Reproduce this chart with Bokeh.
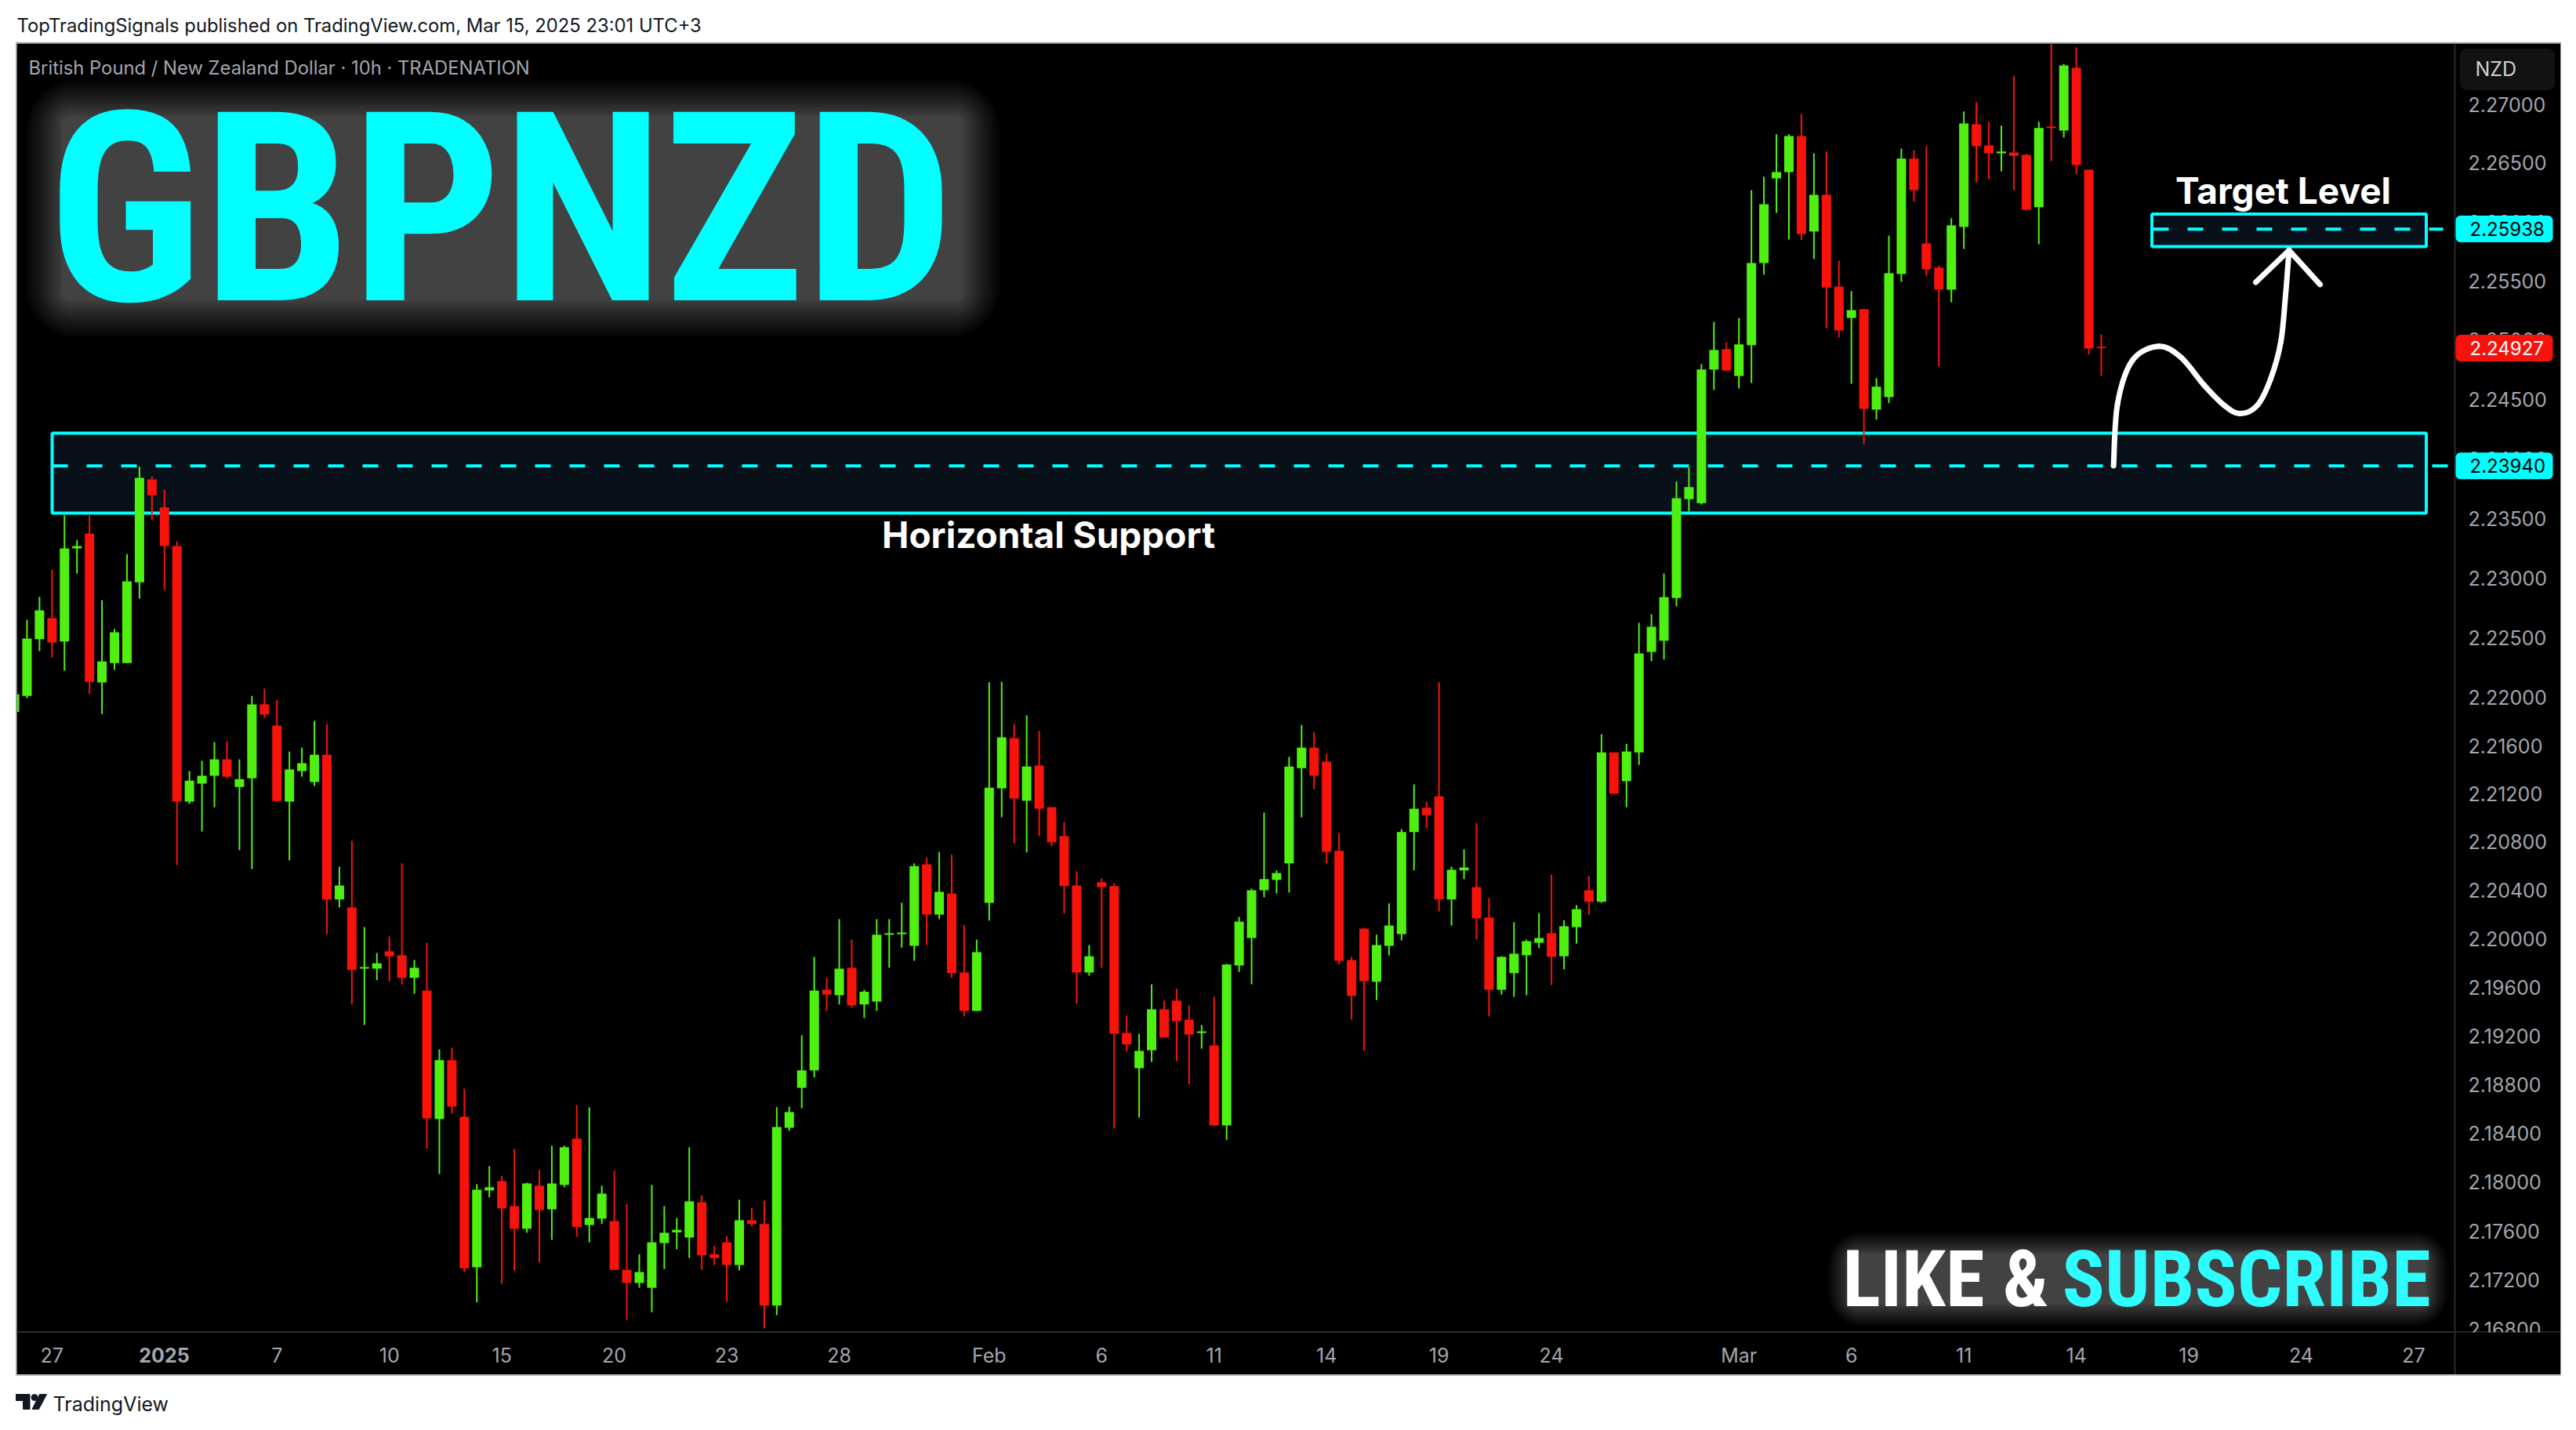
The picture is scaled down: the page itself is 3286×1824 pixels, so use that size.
import math
from bokeh.embed import file_html
from bokeh.layouts import column
from bokeh.models import BoxAnnotation, ColumnDataSource, FixedTicker, Label, NumeralTickFormatter, Range1d
from bokeh.plotting import figure
from bokeh.resources import INLINE

open_read = [
 2.21893,2.22026,2.22498,2.22673,2.22478,2.23256,2.23379,2.22138,2.22300,2.22300,
 2.22973,2.23834,2.23598,2.23276,2.21149,2.21298,2.21363,2.21499,2.21270,2.21342,
 2.21956,2.21779,2.21149,2.21402,2.21311,2.21537,2.20340,2.20274,2.19770,2.19770,
 2.19912,2.19880,2.19694,2.19590,2.18536,2.19018,2.18554,2.17326,2.17952,2.18028,
 2.17824,2.17639,2.17991,2.17798,2.17997,2.18376,2.17670,2.17722,2.17702,2.17305,
 2.17198,2.17159,2.17523,2.17610,2.17568,2.17856,2.17432,2.17529,2.17344,2.17709,
 2.17678,2.17014,2.18464,2.18791,2.18934,2.19596,2.19551,2.19777,2.19475,2.19499,
 2.20049,2.20054,2.19957,2.20630,2.20215,2.20389,2.19738,2.19422,2.20313,2.21259,
 2.21676,2.21156,2.21448,2.21103,2.20863,2.20455,2.19738,2.20482,2.20450,2.19241,
 2.18952,2.19099,2.19435,2.19507,2.19351,2.19241,2.19138,2.18483,2.19796,2.20022,
 2.20416,2.20501,2.20638,2.21426,2.21596,2.21480,2.20741,2.19841,2.20099,2.19662,
 2.19957,2.20054,2.20897,2.21098,2.21193,2.20340,2.20580,2.20442,2.20191,2.19596,
 2.19733,2.19880,2.19983,2.20062,2.19872,2.20112,2.20416,2.20321,2.21557,2.21318,
 2.21557,2.22392,2.22485,2.22842,2.23668,2.23635,2.24756,2.24928,2.24702,2.24961,
 2.25654,2.26371,2.26424,2.26731,2.25921,2.26232,2.25455,2.25191,2.25264,2.24419,
 2.24525,2.25562,2.26539,2.25820,2.25615,2.25430,2.25959,2.26830,2.26651,2.26584,
 2.26591,2.26571,2.26127,2.26811,2.26777,2.27310,2.26445,2.24947]
high_read = [
 2.22046,2.22660,2.22851,2.23078,2.23533,2.23327,2.23533,2.22823,2.22583,2.23208,
 2.23940,2.23859,2.23749,2.23314,2.21402,2.21487,2.21642,2.21649,2.21499,2.22026,
 2.22086,2.21993,2.21564,2.21597,2.21818,2.21791,2.20611,2.20824,2.20112,2.19899,
 2.20035,2.20638,2.19841,2.19983,2.19107,2.19120,2.18784,2.18004,2.18151,2.18072,
 2.18292,2.18015,2.18119,2.18318,2.18318,2.18650,2.18632,2.17991,2.18112,2.17842,
 2.17432,2.17997,2.17824,2.17727,2.18305,2.17913,2.17503,2.17581,2.17876,2.17811,
 2.17869,2.18632,2.18637,2.19222,2.19867,2.19694,2.20178,2.20009,2.19596,2.20178,
 2.20178,2.20313,2.20638,2.20688,2.20733,2.20709,2.20130,2.20009,2.22139,2.22144,
 2.21793,2.21865,2.21735,2.21103,2.20979,2.20572,2.19964,2.20514,2.20474,2.19383,
 2.19235,2.19641,2.19507,2.19604,2.19467,2.19307,2.19538,2.19809,2.20196,2.20429,
 2.21058,2.20580,2.21520,2.21785,2.21727,2.21546,2.20889,2.19867,2.20107,2.20049,
 2.20308,2.20921,2.21291,2.21148,2.22139,2.20611,2.20754,2.20973,2.20353,2.19872,
 2.20152,2.20009,2.20228,2.20545,2.20169,2.20294,2.20532,2.21708,2.21557,2.21628,
 2.22634,2.22706,2.23046,2.23815,2.23933,2.24803,2.25157,2.24985,2.25190,2.26271,
 2.26385,2.26745,2.26745,2.26917,2.26584,2.26598,2.25674,2.25417,2.25270,2.24684,
 2.25886,2.26624,2.26612,2.26644,2.25633,2.26033,2.26938,2.27018,2.26851,2.26819,
 2.27243,2.26578,2.26851,2.27520,2.27344,2.27484,2.26445,2.25052]
low_read = [
 2.21883,2.22008,2.22398,2.22346,2.22236,2.23046,2.22041,2.21876,2.22243,2.22300,
 2.22836,2.23493,2.22908,2.20623,2.21129,2.20901,2.21102,2.21340,2.20747,2.20591,
 2.21844,2.21149,2.20663,2.21355,2.21278,2.20054,2.20274,2.19475,2.19307,2.19675,
 2.19667,2.19641,2.19564,2.18295,2.18086,2.18580,2.17287,2.17040,2.17895,2.17191,
 2.17300,2.17607,2.17365,2.17549,2.17978,2.17574,2.17529,2.17678,2.17305,2.16899,
 2.17159,2.16961,2.17312,2.17472,2.17401,2.17305,2.17344,2.17045,2.17300,2.17657,
 2.16829,2.16936,2.18439,2.18624,2.18876,2.19422,2.19475,2.19448,2.19364,2.19422,
 2.19777,2.19943,2.19835,2.19964,2.20178,2.19694,2.19377,2.19422,2.20165,2.21019,
 2.20804,2.20728,2.20863,2.20778,2.20223,2.19480,2.19712,2.19777,2.18457,2.19089,
 2.18548,2.19004,2.19204,2.19010,2.18819,2.19112,2.18478,2.18363,2.19743,2.19641,
 2.20358,2.20389,2.20397,2.21019,2.21251,2.20638,2.19804,2.19351,2.19094,2.19511,
 2.19880,2.20002,2.20580,2.20929,2.20242,2.20125,2.20508,2.20009,2.19377,2.19557,
 2.19538,2.19551,2.19938,2.19635,2.19764,2.19977,2.20215,2.20313,2.21206,2.21103,
 2.21453,2.22315,2.22329,2.22772,2.23564,2.23624,2.24584,2.24748,2.24597,2.24643,
 2.25556,2.26078,2.25854,2.25848,2.25688,2.25105,2.25027,2.24637,2.24131,2.24335,
 2.24473,2.25496,2.26173,2.25548,2.24782,2.25323,2.25774,2.26338,2.26365,2.26431,
 2.26271,2.26099,2.25813,2.26518,2.26717,2.26408,2.24882,2.24703]
close_read = [
 2.22040,2.22503,2.22738,2.22470,2.23256,2.23276,2.22143,2.22313,2.22555,2.22981,
 2.23847,2.23701,2.23276,2.21149,2.21323,2.21363,2.21499,2.21355,2.21335,2.21956,
 2.21871,2.21154,2.21415,2.21467,2.21537,2.20339,2.20455,2.19759,2.19783,2.19814,
 2.19872,2.19694,2.19777,2.18541,2.19018,2.18637,2.17318,2.17958,2.17978,2.17806,
 2.17639,2.18009,2.17792,2.18009,2.18305,2.17652,2.17727,2.17926,2.17305,2.17198,
 2.17287,2.17529,2.17607,2.17631,2.17863,2.17422,2.17401,2.17344,2.17709,2.17678,
 2.17014,2.18470,2.18593,2.18934,2.19590,2.19557,2.19770,2.19467,2.19580,2.20049,
 2.20062,2.20067,2.20616,2.20215,2.20403,2.19733,2.19422,2.19906,2.21264,2.21682,
 2.21174,2.21440,2.21090,2.20812,2.20450,2.19738,2.19872,2.20442,2.19235,2.19147,
 2.19094,2.19435,2.19204,2.19338,2.19228,2.19254,2.18483,2.19804,2.20157,2.20416,
 2.20508,2.20558,2.21440,2.21596,2.21363,2.20733,2.19835,2.19546,2.19667,2.19964,
 2.20125,2.20897,2.21090,2.21037,2.20340,2.20585,2.20604,2.20184,2.19596,2.19867,
 2.19893,2.19996,2.20022,2.19867,2.20119,2.20260,2.20321,2.21557,2.21215,2.21564,
 2.22380,2.22602,2.22849,2.23675,2.23769,2.24757,2.24921,2.24748,2.24968,2.25654,
 2.26152,2.26424,2.26731,2.25900,2.26232,2.25448,2.25086,2.25257,2.24425,2.24612,
 2.25569,2.26539,2.26271,2.25601,2.25430,2.25973,2.26837,2.26644,2.26584,2.26598,
 2.26563,2.26106,2.26798,2.26798,2.27330,2.26484,2.24934,2.24936]

# the values above were read with a slightly coarse log calibration; this refines them
CAL = 34061 / 33980
def refine(values):
    return [2.27 * (v / 2.27) ** CAL for v in values]
open_, high, low, close = refine(open_read), refine(high_read), refine(low_read), refine(close_read)

price_ticks = [2.27, 2.265, 2.26, 2.255, 2.25, 2.245, 2.24, 2.235, 2.23, 2.225, 2.22, 2.216, 2.212, 2.208,
               2.204, 2.20, 2.196, 2.192, 2.188, 2.184, 2.18, 2.176, 2.172, 2.168]
time_ticks = [3, 12, 21, 30, 39, 48, 57, 66, 78, 87, 96, 105, 114, 123, 138, 147, 156, 165, 174, 183, 192]
time_labels = ["27", "", "7", "10", "15", "20", "23", "28", "Feb", "6", "11", "14", "19", "24", "Mar", "6", "11",
               "14", "19", "24", "27"]
support_level = 2.23940
target_level = 2.25938
last_price = 2.24927

GREEN, RED, CYAN = "#4ff011", "#f7120c", "#00ffff"
BOX_FILL = "#08101a"
AXIS_TEXT = "#a3a6af"
SANS = "Inter"
DISPLAY = "Roboto Condensed"


def X(px):
    return (px - 18) / 15.94


def Y(py):
    return 2.27 * math.exp(-(py - 132.5) / 33980)


def strip(fig):
    fig.grid.visible = False
    fig.outline_line_color = None


def note_figure(h, y0, y1):
    f = figure(width=3284, height=h, x_range=(0, 3284), y_range=(y1, y0), toolbar_location=None,
               output_backend="svg", min_border=0, x_axis_location=None, y_axis_location=None)
    strip(f)
    return f


# ---------- header strip ----------
top = note_figure(55, 0, 55)
top.line([20, 3266], [54, 54], line_color="#a8a8a8", line_width=1.5)
top.add_layout(Label(x=21, y=32, text="TopTradingSignals published on TradingView.com, Mar 15, 2025 23:01 UTC+3",
                     text_font=SANS, text_font_size="23.8px", text_color="#131722", text_baseline="middle"))

# ---------- main pane: the frame covers the whole black area, the axes draw inward ----------
p = figure(frame_width=3245, frame_height=1698, x_range=Range1d(X(21), X(3266)), y_range=Range1d(Y(1753), Y(55)),
           y_axis_type="log", y_axis_location="right", toolbar_location=None, output_backend="svg",
           min_border_left=0, min_border_top=0, min_border_right=0, min_border_bottom=0,
           background_fill_color="#000000", border_fill_color="#000000",
           margin=(0, 0, 0, 21), styles={"box-shadow": "0 0 0 1px #a8a8a8"})
strip(p)

yax = p.yaxis[0]
yax.ticker = FixedTicker(ticks=price_ticks)
yax.formatter = NumeralTickFormatter(format="0.00000")
yax.major_tick_line_color = None
yax.minor_tick_line_color = None
yax.axis_line_color = None
yax.major_label_text_color = AXIS_TEXT
yax.major_label_text_font = SANS
yax.major_label_text_font_size = "25px"
yax.major_label_standoff = -124

xax = p.xaxis[0]
xax.ticker = FixedTicker(ticks=time_ticks)
xax.major_label_overrides = dict(zip(time_ticks, time_labels))
xax.major_tick_line_color = None
xax.minor_tick_line_color = None
xax.axis_line_color = None
xax.major_label_text_color = AXIS_TEXT
xax.major_label_text_font = SANS
xax.major_label_text_font_size = "25px"
xax.major_label_standoff = -46


def glow(x0, y0, x1, y1, spread=46, n=14, alpha=0.024):
    for k in range(n):
        d = spread * (k / (n - 1)) ** 1.3 - 4
        p.add_layout(BoxAnnotation(left=X(x0 - d), right=X(x1 + d), top=Y(y0 - d), bottom=Y(y1 + d),
                                   fill_color="#ffffff", fill_alpha=alpha, line_color=None,
                                   border_radius=int(14 + 1.2 * d), level="underlay"))


glow(75, 144, 1232, 387)
glow(2356, 1595, 3098, 1667, spread=28)

# pane separators
p.line([X(3131), X(3131)], [Y(1753), Y(55)], line_color="#2a2a2a", line_width=2)
p.line([X(21), X(3266)], [Y(1698.5), Y(1698.5)], line_color="#2a2a2a", line_width=2)

# annotation zones sit under the candles
p.quad(left=[X(66)], right=[X(3094.5)], top=[Y(552)], bottom=[Y(654)], fill_color=BOX_FILL,
       line_color=CYAN, line_width=4)
p.quad(left=[X(2744.5)], right=[X(3094.5)], top=[Y(272.5)], bottom=[Y(314)], fill_color=BOX_FILL,
       line_color=CYAN, line_width=4)
p.line([X(66), X(3122)], [support_level, support_level], line_color=CYAN, line_width=4, line_dash="20 24")
p.line([X(2746), X(3116)], [target_level, target_level], line_color=CYAN, line_width=4, line_dash="20 24")

idx = list(range(len(close)))
src = ColumnDataSource(dict(
    x=idx, high=high, low=low,
    top=[max(a, b) for a, b in zip(open_, close)],
    bottom=[min(a, b) for a, b in zip(open_, close)],
    color=[GREEN if c >= o else RED for o, c in zip(open_, close)],
))
p.segment(x0="x", x1="x", y0="low", y1="high", line_color="color", line_width=2, source=src)
p.vbar(x="x", width=12 / 15.94, top="top", bottom="bottom", fill_color="color", line_color=None, source=src)

# hand-drawn projected path
path = [(2695.6, 593.6), (2700.7, 514.5), (2719.8, 459), (2753, 441.3), (2781.4, 455.2), (2811.2, 490.8),
        (2836.7, 516.5), (2857, 527.1), (2879, 516.5), (2896, 482.9), (2909, 435.4), (2915, 376), (2919.5, 318.8)]
pts = [path[0]] + path + [path[-1]]
for i in range(1, len(pts) - 2):
    a, b, c, d = pts[i - 1], pts[i], pts[i + 1], pts[i + 2]
    c1 = (b[0] + (c[0] - a[0]) / 6, b[1] + (c[1] - a[1]) / 6)
    c2 = (c[0] - (d[0] - b[0]) / 6, c[1] - (d[1] - b[1]) / 6)
    p.bezier(x0=[X(b[0])], y0=[Y(b[1])], x1=[X(c[0])], y1=[Y(c[1])], cx0=[X(c1[0])], cy0=[Y(c1[1])],
             cx1=[X(c2[0])], cy1=[Y(c2[1])], line_color="#ffffff", line_width=7, line_cap="round")
head = [(2877, 359.5), (2919.5, 318.8), (2959, 362.3)]
p.line([X(h[0]) for h in head], [Y(h[1]) for h in head], line_color="#ffffff", line_width=7,
       line_cap="round", line_join="round")


def note(x, y, text, font=SANS, size=24, color="#ffffff", style="normal", align="left", **kw):
    lab = Label(x=X(x), y=Y(y), text=text, text_font=font, text_font_size=f"{size}px", text_color=color,
                text_font_style=style, text_align=align, text_baseline="middle", **kw)
    p.add_layout(lab)
    return lab


def plate(x0, y0, x1, y1, fill, radius=6, line=None):
    p.add_layout(BoxAnnotation(left=X(x0), right=X(x1), top=Y(y0), bottom=Y(y1), fill_color=fill, fill_alpha=1,
                               line_color=line, border_radius=radius, level="annotation"))


note(36, 86, "British Pound / New Zealand Dollar · 10h · TRADENATION", color="#a3a6af", size=23.8)
note(60, 267, "GBPNZD", font=DISPLAY, size=338, color=CYAN, style="bold")
note(2350, 1631, "LIKE &", font=DISPLAY, size=101, color="#ffffff", style="bold")
note(2630, 1631, "SUBSCRIBE", font=DISPLAY, size=101, color="#2ffcff", style="bold")
note(1337, 681, "Horizontal Support", size=46, style="bold", align="center")
note(2912, 242, "Target Level", size=46, style="bold", align="center")
note(209, 1728, "2025", size=25, color=AXIS_TEXT, style="bold", align="center")

# covers the part of the lowest tick label that runs past the pane
plate(3133, 1699, 3266, 1753, "#000000", radius=0)

# price axis badges
for py, txt, bg, fg in [(291.5, "2.25938", CYAN, "#000000"), (593.7, "2.23940", CYAN, "#000000"),
                        (443.6, "2.24927", RED, "#ffffff")]:
    plate(3132, py - 17, 3256, py + 17, bg)
    note(3150, py, txt, size=24, color=fg)
plate(3138, 62, 3258, 114, "#121212", radius=8, line="#2a2a2a")
note(3157, 87.5, "NZD", size=25, color="#d0d0d0")

# ---------- footer strip ----------
bottom = note_figure(66, 1753, 1819)
bottom.line([20, 3266], [1753.5, 1753.5], line_color="#a8a8a8", line_width=1.5)
bottom.patch([20, 37.5, 37.5, 29, 29, 20], [1778, 1778, 1797, 1797, 1786, 1786], color="#131722")
bottom.circle(x=[43.5], y=[1782], radius=4, color="#131722")
bottom.patch([50, 59, 49, 40.5], [1778, 1778, 1797, 1797], color="#131722")
bottom.add_layout(Label(x=67, y=1790, text="TradingView", text_font=SANS, text_font_size="25px",
                        text_color="#131722", text_baseline="middle"))

open("out.html", "w").write(file_html(column(top, p, bottom), INLINE))
